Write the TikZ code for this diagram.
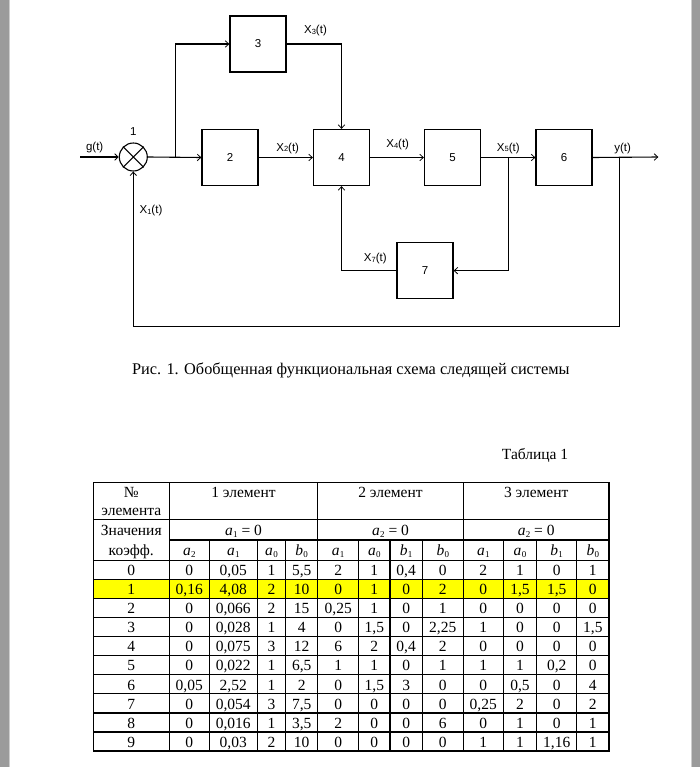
\documentclass[tikz,border=0pt]{standalone}
\usepackage{fontspec}
\setmainfont{Liberation Serif}
\newfontfamily\arial{Liberation Sans}
\usetikzlibrary{arrows.meta}
\definecolor{sidebar}{RGB}{155,155,155}
\definecolor{sideline}{RGB}{205,205,205}
\definecolor{hl}{RGB}{255,255,0}
\newcommand{\xs}[1]{X{\fontsize{7.5}{7.5}\selectfont\raisebox{-0.6pt}{#1}}(t)}
\newcommand{\cf}[2]{\textit{#1}\kern0.3pt\raisebox{-2.5pt}{\fontsize{9}{9}\selectfont #2}}
\def\colx{{131.3,189.3,233.3,271.5,301.7,338.2,374.35,406.15,442.8,483.3,520,556.7,592.85}}
\newcommand{\trow}[2]{%
  \foreach \v [count=\j from 0] in {#2} {%
    \pgfmathsetmacro\xx{\colx[\j]}%
    \node[tx] (r#1c\j) at (\xx, {560.5+19.05*#1+15.2}) {\v};}}
\begin{document}
\begin{tikzpicture}[x=1pt,y=-1pt,
  blk/.style={draw,line width=1.3pt,minimum width=56pt,minimum height=56pt,inner sep=0pt,font=\arial\fontsize{11.5}{12}\selectfont},
  lbl/.style={inner sep=0pt,font=\arial\fontsize{11.5}{12}\selectfont},
  arr/.style={line width=1.1pt,-{Straight Barb[length=3.5pt,width=6.5pt,line width=0.8pt]}},
  ln/.style={line width=1.1pt},
  tx/.style={inner sep=0pt,anchor=base,font=\fontsize{15.5}{16}\selectfont},
  tline/.style={line width=1.2pt}
]
\fill[white] (0,0) rectangle (700,767);
\useasboundingbox (0,0) rectangle (700,767);
\fill[sidebar] (0,0) rectangle (9,767);
\draw[sideline,line width=1pt] (9.5,0) -- (9.5,767);
\fill[sidebar] (692,0) rectangle (700,767);
\draw[sideline,line width=1pt] (691.5,0) -- (691.5,767);

% ---- block diagram ----
\node[draw,circle,line width=1.1pt,minimum size=28pt,inner sep=0pt] (s) at (133.3,157) {};
\draw[ln] (s.45) -- (s.225) (s.135) -- (s.315);
\node[blk] (b3) at (258,44) {3};
\node[blk] (b2) at (230,157.5) {2};
\node[blk] (b4) at (341.5,157.5) {4};
\node[blk] (b5) at (452.5,157.5) {5};
\node[blk] (b6) at (564,157.5) {6};
\node[blk] (b7) at (425,270.7) {7};

\coordinate (gin) at (80,157);
\coordinate (br1) at (175.3,157);
\coordinate (br5) at (508.3,157);
\coordinate (br6) at (619.3,157);
\coordinate (yout) at (658.3,157);
\coordinate (fbc) at (133.3,326.7);

\draw[arr] (gin) -- (s.west);
\draw[arr] (s.east) -- (b2.west);
\draw[arr] (br1) |- (b3.west);
\draw[arr] (b3.east) -| (b4.north);
\draw[arr] (b2.east) -- (b4.west);
\draw[arr] (b4.east) -- (b5.west);
\draw[arr] (b5.east) -- (b6.west);
\draw[arr] (br5) |- (b7.east);
\draw[arr] (b7.west) -| (b4.south);
\draw[arr] (b6.east) -- (yout);
\draw[arr] (br6) |- (fbc) -- (s.south);

\node[lbl] (lg) at (94.7,147.7) {g(t)};
\node[lbl] (l1) at (133.3,131.7) {1};
\node[lbl] (lx3) at (315.5,30.5) {\xs{3}};
\node[lbl] (lx2) at (287.7,148.3) {\xs{2}};
\node[lbl] (lx4) at (397.7,145) {\xs{4}};
\node[lbl] (lx5) at (508.3,148.3) {\xs{5}};
\node[lbl] (ly) at (622.7,148.3) {y(t)};
\node[lbl] (lx7) at (375.3,258.7) {\xs{7}};
\node[lbl] (lx1) at (151,211) {\xs{1}};

\node[tx,font=\fontsize{16.3}{17}\selectfont] (cap) at (350.8,374) {Рис. 1. Обобщенная функциональная схема следящей системы};
\node[tx,anchor=base west] (tab) at (501.7,459) {Таблица 1};

% ---- table ----
\fill[hl] (93.3,580) rectangle (609,599.05);
\draw[tline] (93.3,482.3) rectangle (609,751);
\foreach \x in {169.3,317.7,463.3} \draw[tline] (\x,482.3) -- (\x,751);
\foreach \x in {209.3,257.3,285.7,358.7,390,422.3,503.3,536.7,576.7} \draw[tline] (\x,540) -- (\x,751);
\draw[tline] (93.3,519.3) -- (609,519.3);
\draw[tline] (169.3,540) -- (609,540);
\foreach \i in {0,...,9} \draw[tline] (93.3,{560.5+19.05*\i}) -- (609,{560.5+19.05*\i});

\node[tx] (hno) at (131.3,497) {№};
\node[tx] (hel) at (131.3,515) {элемента};
\node[tx] (hzn) at (131.3,535) {Значения};
\node[tx] (hko) at (131.3,555) {коэфф.};
\node[tx] (e1) at (243.5,497) {1 элемент};
\node[tx] (e2) at (390.5,497) {2 элемент};
\node[tx] (e3) at (536.2,497) {3 элемент};
\node[tx] (z1) at (243.5,535) {\cf{a}{1} = 0};
\node[tx] (z2) at (390.5,535) {\cf{a}{2} = 0};
\node[tx] (z3) at (536.2,535) {\cf{a}{2} = 0};
\node[tx] (k1) at (189.3,555) {\cf{a}{2}};
\node[tx] (k2) at (233.3,555) {\cf{a}{1}};
\node[tx] (k3) at (271.5,555) {\cf{a}{0}};
\node[tx] (k4) at (301.7,555) {\cf{b}{0}};
\node[tx] (k5) at (338.2,555) {\cf{a}{1}};
\node[tx] (k6) at (374.35,555) {\cf{a}{0}};
\node[tx] (k7) at (406.15,555) {\cf{b}{1}};
\node[tx] (k8) at (442.8,555) {\cf{b}{0}};
\node[tx] (k9) at (483.3,555) {\cf{a}{1}};
\node[tx] (k10) at (520,555) {\cf{a}{0}};
\node[tx] (k11) at (556.7,555) {\cf{b}{1}};
\node[tx] (k12) at (592.85,555) {\cf{b}{0}};

\trow{0}{0,0,{0,05},1,{5,5},2,1,{0,4},0,2,1,0,1}
\trow{1}{1,{0,16},{4,08},2,10,0,1,0,2,0,{1,5},{1,5},0}
\trow{2}{2,0,{0,066},2,15,{0,25},1,0,1,0,0,0,0}
\trow{3}{3,0,{0,028},1,4,0,{1,5},0,{2,25},1,0,0,{1,5}}
\trow{4}{4,0,{0,075},3,12,6,2,{0,4},2,0,0,0,0}
\trow{5}{5,0,{0,022},1,{6,5},1,1,0,1,1,1,{0,2},0}
\trow{6}{6,{0,05},{2,52},1,2,0,{1,5},3,0,0,{0,5},0,4}
\trow{7}{7,0,{0,054},3,{7,5},0,0,0,0,{0,25},2,0,2}
\trow{8}{8,0,{0,016},1,{3,5},2,0,0,6,0,1,0,1}
\trow{9}{9,0,{0,03},2,10,0,0,0,0,1,1,{1,16},1}
\end{tikzpicture}
\end{document}
